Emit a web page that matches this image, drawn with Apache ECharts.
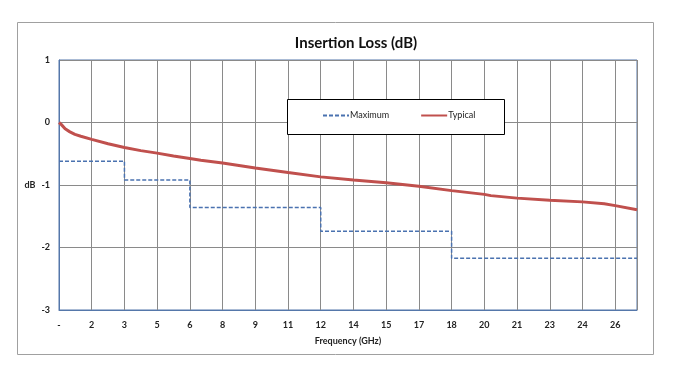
<!DOCTYPE html>
<html>
<head>
<meta charset="utf-8">
<script src="https://cdn.jsdelivr.net/npm/echarts@6/dist/echarts.min.js"></script>
<style>
html,body{margin:0;padding:0;background:#fff;}
#chart{width:679px;height:366px;}
</style>
</head>
<body>
<div id="chart"></div>
<script>
// Data
const xTickLabels = ['-', '2', '3', '5', '6', '8', '9', '11', '12', '14', '15', '17', '18', '20', '21', '23', '24', '26'];
const yTickLabels = ['-3', '-2', '-1', '0', '1'];
const maxFreq = [0, 3, 6, 12, 18, 26.5];
const maxLoss = [-0.62, -0.92, -1.36, -1.74, -2.17, -2.17];
const typFreq = [0, 0.1, 0.28, 0.5, 0.73, 1.0, 1.5, 2.25, 3, 3.75, 4.5, 5.25, 6, 6.5, 7.5, 9, 10.5, 12, 13.5, 15, 16.5, 18, 19.5, 19.8, 21, 22.5, 24, 25, 25.5, 26.5];
const typLoss = [0, -0.03, -0.10, -0.15, -0.19, -0.22, -0.27, -0.34, -0.40, -0.45, -0.49, -0.535, -0.576, -0.605, -0.647, -0.727, -0.80, -0.87, -0.92, -0.965, -1.02, -1.09, -1.15, -1.17, -1.21, -1.245, -1.27, -1.30, -1.33, -1.395];

const FONT = 'Lato';
const chart = echarts.init(document.getElementById('chart'), null, {renderer: 'canvas'});
chart.setOption({
  animation: false,
  backgroundColor: '#ffffff',
  textStyle: {fontFamily: FONT},
  title: {
    text: 'Insertion Loss (dB)',
    left: 351, top: 31, textAlign: 'center',
    textStyle: {fontFamily: FONT, fontSize: 15, fontWeight: 'bold', color: '#111'}
  },
  graphic: [
    {type: 'rect', shape: {x: 17.5, y: 22.5, width: 636, height: 332}, style: {fill: 'none', stroke: '#a0a0a0', lineWidth: 1}, z: -1},
    {type: 'rect', shape: {x: 287.5, y: 99.5, width: 217, height: 35}, style: {fill: '#fff', stroke: '#000', lineWidth: 1}, z: 10}
  ],
  legend: {
    left: 322, top: 111, padding: 0, itemWidth: 26, itemHeight: 10, itemGap: 31, z: 20,
    itemStyle: {opacity: 0},
    textStyle: {fontFamily: FONT, fontSize: 9, color: '#222', padding: [0, 0, 0, -4]},
    data: ['Maximum', 'Typical']
  },
  grid: {left: 59, right: 42, top: 60, bottom: 56, show: true, borderColor: '#5577aa', borderWidth: 1},
  xAxis: {
    type: 'value', min: 0, max: 26.5, interval: 1.5,
    name: 'Frequency (GHz)', nameLocation: 'middle', nameGap: 27,
    nameTextStyle: {fontFamily: FONT, fontSize: 9, fontWeight: 'bold', color: '#222'},
    axisLine: {show: true, onZero: false, lineStyle: {color: '#5577aa'}},
    axisTick: {show: false},
    splitLine: {show: true, lineStyle: {color: '#8a8a8a', width: 1}},
    axisLabel: {
      margin: 11, fontFamily: FONT, fontSize: 9, fontWeight: 'bold', color: '#222',
      showMaxLabel: false,
      formatter: v => { const i = Math.round(v / 1.5); return xTickLabels[i] !== undefined ? xTickLabels[i] : ''; }
    }
  },
  yAxis: {
    type: 'value', min: -3, max: 1, interval: 1,
    name: 'dB', nameLocation: 'middle', nameGap: 15, nameRotate: 0,
    nameTextStyle: {fontFamily: FONT, fontSize: 9, fontWeight: 'bold', color: '#222'},
    axisLine: {show: true, onZero: false, lineStyle: {color: '#5577aa'}},
    axisTick: {show: false},
    splitLine: {show: true, lineStyle: {color: '#8a8a8a', width: 1}},
    axisLabel: {
      margin: 9, fontFamily: FONT, fontSize: 9, fontWeight: 'bold', color: '#222',
      formatter: v => yTickLabels[Math.round(v + 3)]
    }
  },
  series: [
    {
      name: 'Maximum', type: 'line', step: 'end', symbol: 'none', z: 3,
      data: maxFreq.map((f, i) => [f, maxLoss[i]]),
      lineStyle: {color: '#4a72b0', width: 1.5, type: [4, 2]},
      itemStyle: {color: '#4a72b0'}
    },
    {
      name: 'Typical', type: 'line', symbol: 'none', z: 4,
      data: typFreq.map((f, i) => [f, typLoss[i]]),
      lineStyle: {color: '#c0504d', width: 3},
      itemStyle: {color: '#c0504d'}
    }
  ]
});
</script>
</body>
</html>
